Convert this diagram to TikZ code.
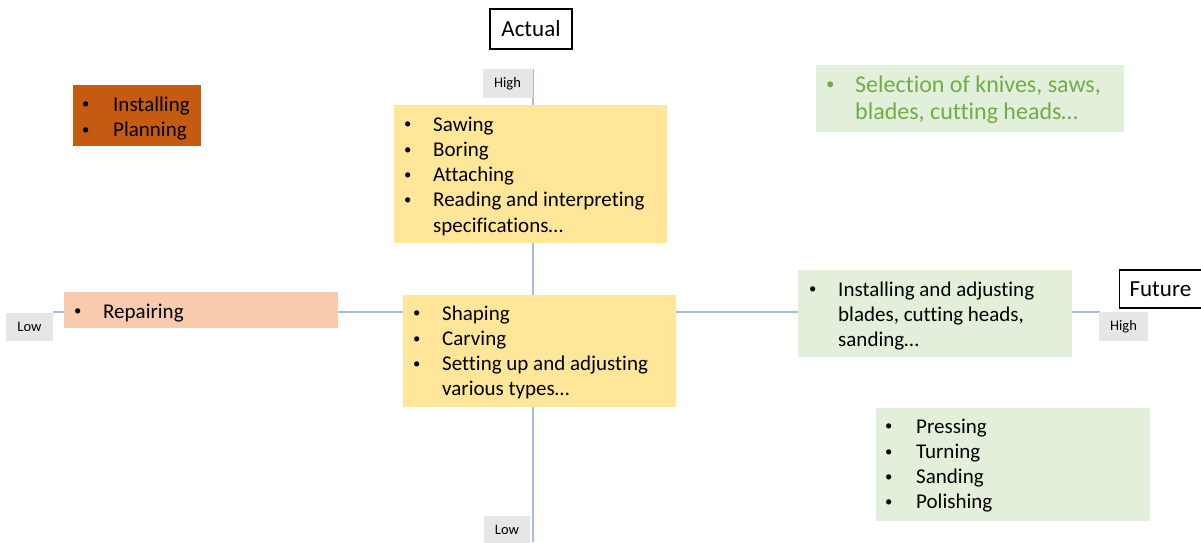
\documentclass[tikz,border=0pt]{standalone}
\usepackage{fontspec}
\setmainfont[Ligatures={NoCommon}]{Carlito}
\definecolor{axisc}{HTML}{A6BDE3}
\definecolor{yelc}{HTML}{FFE699}
\definecolor{orgc}{HTML}{C55A11}
\definecolor{pchc}{HTML}{F8CBAD}
\definecolor{grnc}{HTML}{E2EFDA}
\definecolor{gtxt}{HTML}{70AD47}
\definecolor{grayc}{HTML}{E7E6E6}
\newcommand{\blist}[2]{\begin{tabular}[t]{@{}p{#1}@{}l@{}}#2\end{tabular}}
\newcommand{\bu}{\raisebox{0.1em}{\scalebox{0.7}{•}}}
\tikzset{
  axisline/.style={draw=axisc, line width=1.2pt},
  fillbox/.style={rectangle, inner sep=0pt, draw=none, anchor=north west},
  txt/.style={inner sep=0pt, anchor=base west, font=\fontsize{21}{25.3}\selectfont},
  txtbig/.style={inner sep=0pt, anchor=base west, font=\fontsize{24}{27.5}\selectfont, text=gtxt},
  lvl/.style={rectangle, fill=grayc, inner sep=0pt, font=\fontsize{14.5}{17}\selectfont},
  titlebox/.style={rectangle, draw=black, line width=1.2pt, inner sep=0pt, font=\fontsize{23}{27}\selectfont}
}
\begin{document}
\begin{tikzpicture}[x=1pt,y=-1pt]
\useasboundingbox (0,0) rectangle (1201,542);
% axes
\coordinate (vtop) at (533,69);
\coordinate (vbot) at (533,542);
\coordinate (hleft) at (53,312);
\coordinate (hright) at (1100,312);
\draw[axisline] (vtop) -- (vbot);
\draw[axisline] (hleft) -- (hright);
% titles
\node[titlebox, minimum width=82pt, minimum height=40pt] (actual) at (531,29) {Actual};
\node[titlebox, anchor=west, minimum height=38pt, text width=72pt, align=left, inner xsep=10pt] (future) at (1119,289) {Future};
% level labels
\node[lvl, minimum width=50pt, minimum height=29pt] (hightop) at (507.5,83.5) {High};
\node[lvl, minimum width=47pt, minimum height=28pt] (lowleft) at (29.5,326.5) {Low};
\node[lvl, minimum width=46pt, minimum height=27pt] (lowbot) at (507,529.5) {Low};
\node[lvl, minimum width=49pt, minimum height=29pt] (highright) at (1123.5,326.5) {High};
% orange box
\node[fillbox, fill=orgc, minimum width=128pt, minimum height=61pt] (orange) at (73,85) {};
\node[txt] (orangetxt) at (82,111) {\blist{31pt}{\bu & Installing\\ \bu & Planning}};
% yellow top
\node[fillbox, fill=yelc, minimum width=273pt, minimum height=138pt] (yeltop) at (394,105) {};
\node[txt] (yeltoptxt) at (404,131) {\blist{29pt}{\bu & Sawing\\ \bu & Boring\\ \bu & Attaching\\ \bu & Reading and interpreting\\ & specifications…}};
% repairing
\node[fillbox, fill=pchc, minimum width=274pt, minimum height=36pt] (repair) at (64,292) {};
\node[txt] (repairtxt) at (74,318) {\blist{29pt}{\bu & Repairing}};
% yellow middle
\node[fillbox, fill=yelc, minimum width=273pt, minimum height=112pt] (yelmid) at (403,295) {};
\node[txt] (yelmidtxt) at (413,320) {\blist{29pt}{\bu & Shaping\\ \bu & Carving\\ \bu & Setting up and adjusting\\ & various types…}};
% green top
\node[fillbox, fill=grnc, minimum width=308pt, minimum height=67pt] (grntop) at (816,65) {};
\node[txtbig] (grntoptxt) at (826,92) {\blist{29pt}{\bu & Selection of knives, saws,\\ & blades, cutting heads…}};
% green middle
\node[fillbox, fill=grnc, minimum width=274pt, minimum height=87pt] (grnmid) at (798,270) {};
\node[txt] (grnmidtxt) at (809,296) {\blist{29pt}{\bu & Installing and adjusting\\ & blades, cutting heads,\\ & sanding…}};
% green bottom
\node[fillbox, fill=grnc, minimum width=274pt, minimum height=113pt] (grnbot) at (876,408) {};
\node[txt] (grnbottxt) at (885,433) {\blist{31pt}{\bu & Pressing\\ \bu & Turning\\ \bu & Sanding\\ \bu & Polishing}};
\end{tikzpicture}
\end{document}
